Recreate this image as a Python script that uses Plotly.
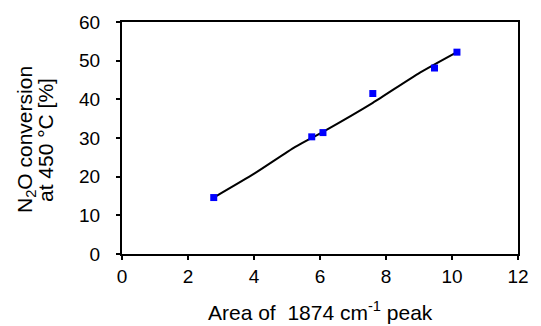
import plotly.graph_objects as go

# Measured samples
peak_area = [2.78, 5.75, 6.09, 7.60, 9.47, 10.15]
conversion = [14.6, 30.3, 31.4, 41.5, 48.1, 52.2]

# Trend line through the samples
trend_x = [2.78, 4.03, 5.25, 6.09, 7.60, 8.97, 10.15]
trend_y = [14.6, 20.9, 27.7, 31.6, 39.1, 46.6, 52.2]

x_ticks = [0, 2, 4, 6, 8, 10, 12]
y_ticks = [0, 10, 20, 30, 40, 50, 60]

x_title = "Area of  1874 cm<sup>-1</sup> peak"
y_title_lines = ["N<sub>2</sub>O conversion", "at 450 °C [%]"]

font_family = "Liberation Sans, Arial, sans-serif"
tick_size = 19
title_size = 21

fig = go.Figure()
fig.add_trace(go.Scatter(
    x=trend_x, y=trend_y, mode="lines",
    line=dict(color="black", width=2, shape="spline", smoothing=0.6),
    showlegend=False, hoverinfo="skip",
))
fig.add_trace(go.Scatter(
    x=peak_area, y=conversion, mode="markers",
    marker=dict(symbol="square", size=7, color="#0000ff"),
    showlegend=False,
))

axis_common = dict(
    showline=True, linecolor="black", linewidth=2, mirror=True,
    showgrid=False, zeroline=False,
    ticks="outside", ticklen=4, tickwidth=1.5, tickcolor="black",
    tickfont=dict(family=font_family, size=tick_size, color="black"),
)

fig.update_layout(
    width=541, height=326,
    margin=dict(l=122, r=18, t=18, b=72),
    paper_bgcolor="white", plot_bgcolor="white",
    font=dict(family=font_family, size=tick_size, color="black"),
    xaxis=dict(range=[0, 12], tickvals=x_ticks, **axis_common),
    yaxis=dict(range=[0, 60], tickvals=y_ticks, ticklabelstandoff=12, **axis_common),
)

# X axis title
fig.add_annotation(
    text=x_title, xref="paper", yref="paper", x=0.5, y=0,
    xanchor="center", yanchor="middle", yshift=-57, showarrow=False,
    font=dict(family=font_family, size=title_size, color="black"),
)

# Two-line Y axis title with tight line spacing
for line, shift in zip(y_title_lines, [-96, -77]):
    fig.add_annotation(
        text=line, xref="paper", yref="paper", x=0, y=0.5,
        xanchor="center", yanchor="middle", xshift=shift, yshift=-2,
        textangle=-90, showarrow=False,
        font=dict(family=font_family, size=title_size, color="black"),
    )

fig.write_html("out.html")
